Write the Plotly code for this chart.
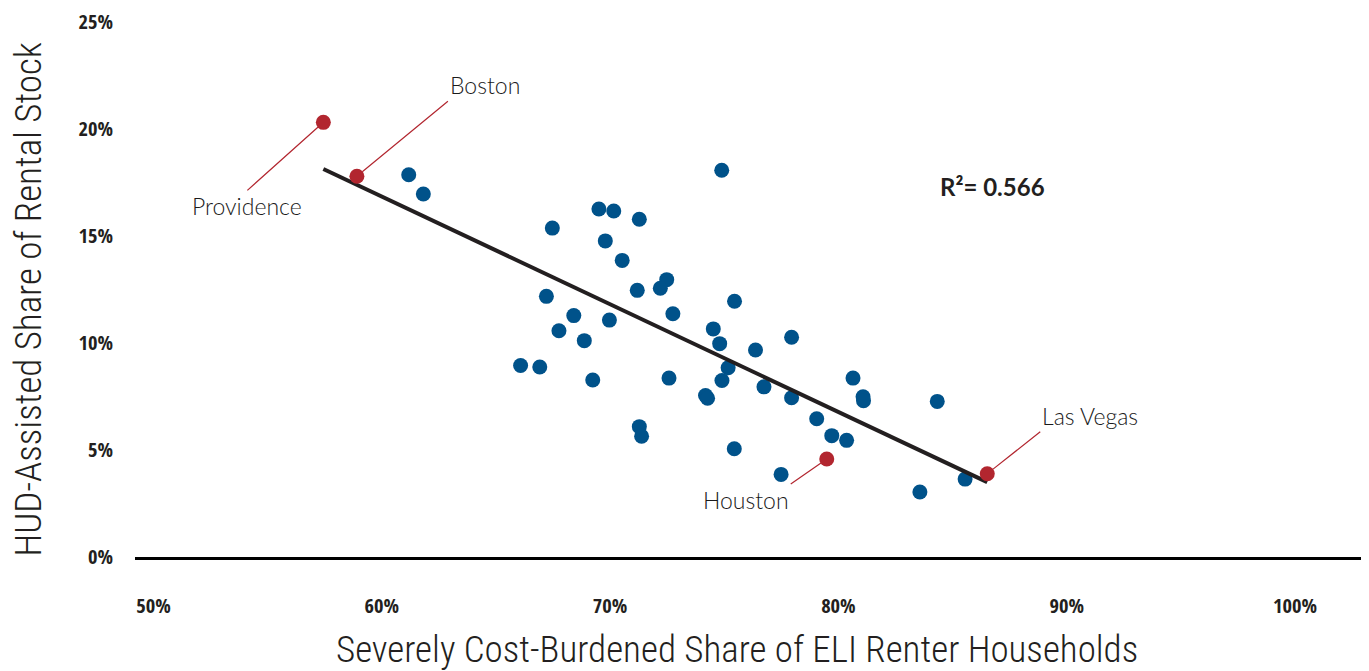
import numpy as np
import plotly.graph_objects as go

# severely cost-burdened share of ELI renter households (%) vs HUD-assisted share of rental stock (%)
metro_x = [61.18, 61.82, 74.89, 69.51, 70.16, 71.28, 67.47, 69.79, 70.53, 72.48,
           72.20, 71.19, 67.21, 75.45, 68.41, 72.75, 69.97, 67.76, 74.52, 68.87,
           74.80, 77.95, 76.37, 66.08, 66.92, 69.24, 72.58, 75.17, 74.90, 74.18,
           74.27, 76.74, 77.95, 80.64, 81.08, 81.10, 84.33, 71.28, 71.38, 79.05,
           79.71, 80.36, 75.44, 77.49, 85.55, 83.57]
metro_y = [17.86, 16.96, 18.07, 16.26, 16.17, 15.78, 15.37, 14.77, 13.86, 12.96,
           12.56, 12.46, 12.18, 11.95, 11.28, 11.37, 11.07, 10.57, 10.66, 10.11,
           9.97, 10.27, 9.67, 8.95, 8.88, 8.27, 8.36, 8.84, 8.25, 7.55,
           7.42, 7.95, 7.44, 8.36, 7.49, 7.30, 7.27, 6.09, 5.64, 6.46,
           5.67, 5.45, 5.06, 3.86, 3.64, 3.04]

named_metros = ["Providence", "Boston", "Houston", "Las Vegas"]
named_x = [57.44, 58.91, 79.49, 86.52]
named_y = [20.31, 17.79, 4.58, 3.89]

r_squared_label = "R²= 0.566"
x_ticks = [50, 60, 70, 80, 90, 100]
y_ticks = [0, 5, 10, 15, 20, 25]

BLUE = "#00528A"
RED = "#B2262F"
INK = "#231F20"
TICK_FONT = "Open Sans Condensed, DejaVu Sans Condensed, sans-serif"
TITLE_FONT = "Roboto Condensed, DejaVu Sans Condensed, sans-serif"

# linear trend over all metros
all_x = np.array(metro_x + named_x)
all_y = np.array(metro_y + named_y)
slope, intercept = np.polyfit(all_x, all_y, 1)
trend_x = np.array([all_x.min(), all_x.max()])
trend_y = slope * trend_x + intercept

fig = go.Figure()
fig.add_trace(go.Scatter(x=metro_x, y=metro_y, mode="markers",
                         marker=dict(size=15, color=BLUE), hoverinfo="skip"))
fig.add_trace(go.Scatter(x=trend_x, y=trend_y, mode="lines",
                         line=dict(color=INK, width=4), hoverinfo="skip"))
fig.add_trace(go.Scatter(x=named_x, y=named_y, mode="markers",
                         marker=dict(size=15, color=RED), hoverinfo="skip"))

# leader line placement for the labelled metros
label_pos = {
    "Providence": dict(ax=-76, ay=68, xanchor="center", yanchor="top"),
    "Boston": dict(ax=91, ay=-75, xanchor="left", yanchor="bottom"),
    "Houston": dict(ax=-36, ay=25, xanchor="right", yanchor="top"),
    "Las Vegas": dict(ax=53, ay=-42, xanchor="left", yanchor="bottom"),
}
for name, x, y in zip(named_metros, named_x, named_y):
    fig.add_annotation(x=x, y=y, text=name, showarrow=True, arrowhead=0,
                       arrowwidth=1.2, arrowcolor=RED, standoff=7,
                       font=dict(family="Lato, sans-serif", size=23, color="#1a1a1a", weight=300),
                       **label_pos[name])

fig.add_annotation(xref="paper", yref="paper", x=0.652, y=0.692, text="<b>" + r_squared_label + "</b>",
                   showarrow=False, xanchor="left", yanchor="middle",
                   font=dict(family="Lato, sans-serif", size=24, color=INK))

# axis titles
fig.add_annotation(xref="paper", yref="paper", x=0.4894, y=-0.173,
                   text="Severely Cost-Burdened Share of ELI Renter Households",
                   showarrow=False, xanchor="center", yanchor="middle",
                   font=dict(family=TITLE_FONT, size=37, color=INK, weight=300))
fig.add_annotation(xref="paper", yref="paper", x=-0.0862, y=0.481,
                   text="HUD-Assisted Share of Rental Stock", textangle=-90,
                   showarrow=False, xanchor="center", yanchor="middle",
                   font=dict(family=TITLE_FONT, size=37, color=INK, weight=300))

# page body has an 8px margin, so the figure is shifted; margins compensate
fig.update_layout(
    width=1361, height=663,
    margin=dict(l=127, r=3, t=14, b=114),
    paper_bgcolor="white", plot_bgcolor="white",
    showlegend=False,
)
fig.update_xaxes(range=[49.19, 103.11], tickvals=x_ticks,
                 ticktext=[f"{v}%" for v in x_ticks],
                 showgrid=False, zeroline=False, showline=True,
                 linecolor="black", linewidth=3, ticks="", automargin=False,
                 ticklabelstandoff=28, ticklabeloverflow="allow",
                 tickfont=dict(family=TICK_FONT, size=20.5, color=INK, weight="bold"))
fig.update_yaxes(range=[0, 25], tickvals=y_ticks,
                 ticktext=[f"{v}%" for v in y_ticks],
                 showgrid=False, zeroline=False, showline=False, ticks="", automargin=False,
                 ticklabelstandoff=21, ticklabeloverflow="allow",
                 tickfont=dict(family=TICK_FONT, size=20.5, color=INK, weight="bold"))

fig.write_html("out.html")
